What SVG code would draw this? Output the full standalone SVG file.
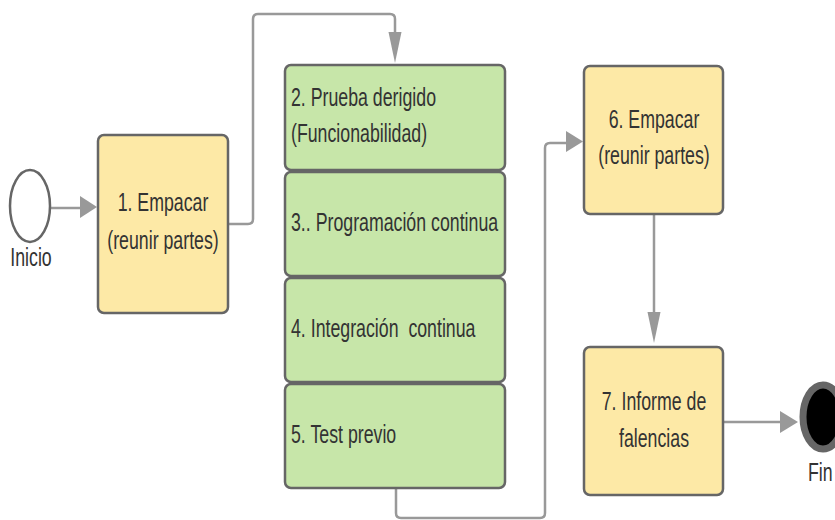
<svg xmlns="http://www.w3.org/2000/svg" width="835" height="520" viewBox="0 0 835 520">
<style>
.t{font-family:"Liberation Sans",Arial,sans-serif;font-size:25px;fill:#333}
.c{text-anchor:middle}
.y{fill:#fde9a6;stroke:#666;stroke-width:2.5}
.g{fill:#c7e6a9;stroke:#666;stroke-width:2.5}
.ln{fill:none;stroke:#999;stroke-width:2.5}
.ah{fill:#999;stroke:none}
</style>
<rect width="835" height="520" fill="#fff"/>
<g id="connectors">
<path class="ln" d="M51 208 H82"/>
<path class="ah" d="M80 196 L97 207 L80 218 Z"/>
<path class="ln" d="M228 224 H248 Q253 224 253 219 V19 Q253 14 258 14 H390 Q395 14 395 19 V34"/>
<path class="ah" d="M388.5 32 L395 63 L401.5 32 Z"/>
<path class="ln" d="M396 488 V513 Q396 518 401 518 H540 Q545 518 545 513 V148 Q545 143 550 143 H568"/>
<path class="ah" d="M566 131 L583 141.5 L566 152 Z"/>
<path class="ln" d="M654 214 V314"/>
<path class="ah" d="M647.5 312 L654 343 L660.5 312 Z"/>
<path class="ln" d="M723 422 H782"/>
<path class="ah" d="M780 411 L798 422 L780 433 Z"/>
</g>
<g id="inicio">
<ellipse cx="30" cy="206" rx="20" ry="36" fill="#fff" stroke="#666" stroke-width="2.5"/>
<text class="t c" transform="translate(31 266) scale(0.71 1)">Inicio</text>
</g>
<g id="n1">
<rect class="y" x="98" y="135" width="130" height="178" rx="6"/>
<text class="t c" transform="translate(163 211) scale(0.71 1)">1. Empacar</text>
<text class="t c" transform="translate(163 249) scale(0.71 1)">(reunir partes)</text>
</g>
<g id="n2">
<rect class="g" x="285" y="65" width="220" height="105" rx="6"/>
<text class="t" transform="translate(291 106) scale(0.71 1)">2. Prueba derigido</text>
<text class="t" transform="translate(291 142) scale(0.71 1)">(Funcionabilidad)</text>
</g>
<g id="n3">
<rect class="g" x="285" y="172" width="220" height="104" rx="6"/>
<text class="t" transform="translate(291 231) scale(0.71 1)">3.. Programación continua</text>
</g>
<g id="n4">
<rect class="g" x="285" y="278" width="220" height="104" rx="6"/>
<text class="t" transform="translate(291 337) scale(0.71 1)" xml:space="preserve">4. Integración  continua</text>
</g>
<g id="n5">
<rect class="g" x="285" y="384" width="220" height="104" rx="6"/>
<text class="t" transform="translate(291 443) scale(0.71 1)">5. Test previo</text>
</g>
<g id="n6">
<rect class="y" x="584" y="66" width="139" height="148" rx="6"/>
<text class="t c" transform="translate(654 128) scale(0.71 1)">6. Empacar</text>
<text class="t c" transform="translate(654 164) scale(0.71 1)">(reunir partes)</text>
</g>
<g id="n7">
<rect class="y" x="584" y="347" width="139" height="148" rx="6"/>
<text class="t c" transform="translate(654 410) scale(0.71 1)">7. Informe de</text>
<text class="t c" transform="translate(654 447) scale(0.71 1)">falencias</text>
</g>
<g id="fin">
<ellipse cx="823" cy="417" rx="20" ry="32" fill="#000" stroke="#666" stroke-width="7"/>
<text class="t" transform="translate(808 481) scale(0.71 1)">Fin</text>
</g>
</svg>
